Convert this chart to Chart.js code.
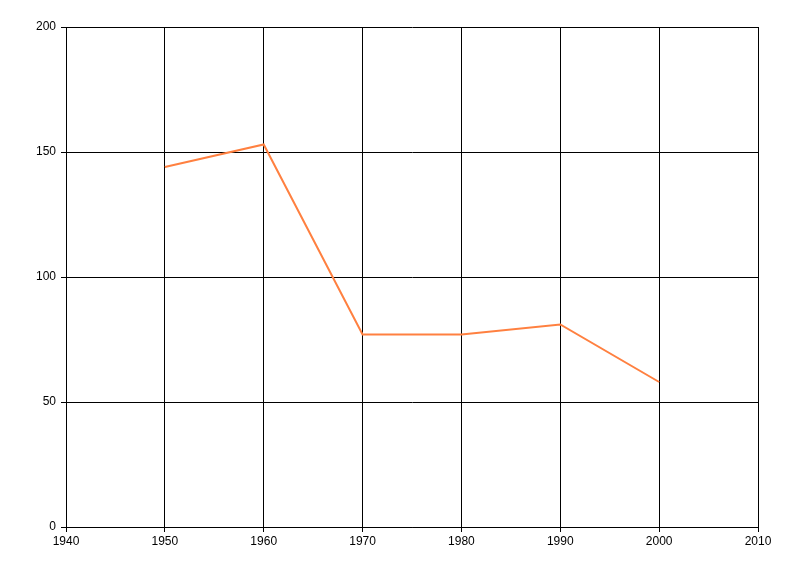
<!DOCTYPE html>
<html>
<head>
<meta charset="utf-8">
<script src="https://cdn.jsdelivr.net/npm/chart.js@4/dist/chart.umd.min.js"></script>
<style>
html,body{margin:0;padding:0;background:#fff;}
#wrap{width:800px;height:576px;}
</style>
</head>
<body>
<div id="wrap"><canvas id="c" width="800" height="576"></canvas></div>
<script>
const years = [1950, 1960, 1970, 1980, 1990, 2000];
const values = [144, 153, 77, 77, 81, 58];
const xTicks = [1940, 1950, 1960, 1970, 1980, 1990, 2000, 2010];
const yTicks = [0, 50, 100, 150, 200];

const points = years.map((y, i) => ({x: y, y: values[i]}));

new Chart(document.getElementById('c'), {
  type: 'line',
  data: {
    datasets: [{
      data: points,
      borderColor: 'rgb(255,128,64)',
      borderWidth: 2,
      pointRadius: 0,
      fill: false,
      tension: 0
    }]
  },
  options: {
    responsive: false,
    animation: false,
    devicePixelRatio: 1,
    layout: {padding: {left: 0, right: 42, top: 27, bottom: 0}},
    plugins: {legend: {display: false}, tooltip: {enabled: false}},
    scales: {
      x: {
        type: 'linear',
        min: xTicks[0],
        max: xTicks[xTicks.length - 1],
        afterBuildTicks: s => { s.ticks = xTicks.map(v => ({value: v})); },
        afterFit: s => { s.height = 49; },
        grid: {color: '#000', lineWidth: 1, tickLength: 5, drawTicks: true},
        border: {color: '#000', width: 1},
        ticks: {color: '#000', font: {family: 'Liberation Sans', size: 12}, padding: 2, maxRotation: 0, callback: v => String(v)}
      },
      y: {
        min: yTicks[0],
        max: yTicks[yTicks.length - 1],
        afterBuildTicks: s => { s.ticks = yTicks.map(v => ({value: v})); },
        afterFit: s => { s.width = 66; },
        grid: {color: '#000', lineWidth: 1, tickLength: 5, drawTicks: true},
        border: {color: '#000', width: 1},
        ticks: {color: '#000', font: {family: 'Liberation Sans', size: 12}, padding: 5}
      }
    }
  }
});
</script>
</body>
</html>
